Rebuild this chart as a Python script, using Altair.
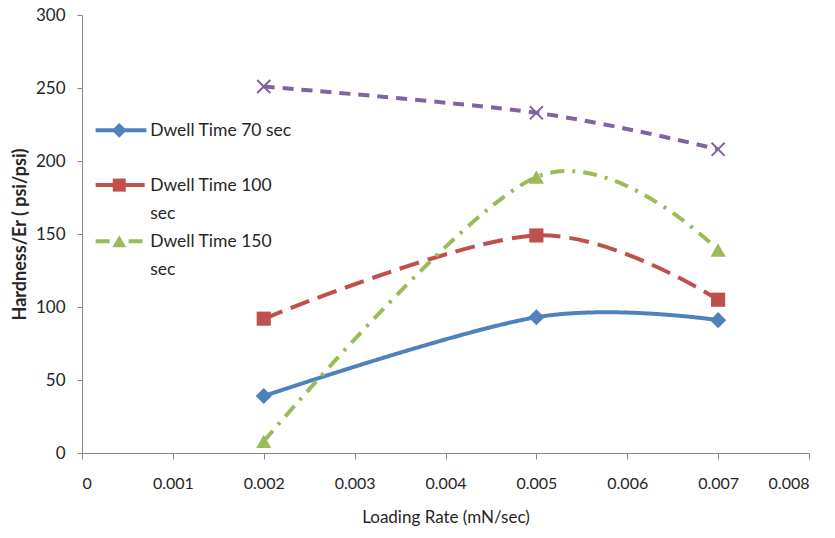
import altair as alt
import pandas as pd

# Loading rate (mN/sec) and hardness/Er for each dwell time
rates = [0.002, 0.005, 0.007]
dwell_70 = [39, 93, 91]
dwell_100 = [92, 149, 105]
dwell_150 = [8, 189, 139]
dwell_other = [251, 233, 208]

series_names = ["Dwell Time 70 sec", "Dwell Time 100 sec", "Dwell Time 150 sec", "other"]
series_values = [dwell_70, dwell_100, dwell_150, dwell_other]
series_colors = ["#4F81BD", "#C0504D", "#9BBB59", "#8064A2"]
series_dashes = [[1, 0], [20, 9], [14, 8, 3, 8], [11, 8]]
series_shapes = ["diamond", "square", "triangle-up", "M-1,-1L1,1M-1,1L1,-1"]
series_sizes = [260, 200, 230, 170]

# Legend entries (drawn inside the plot, in data units)
legend_labels = ["Dwell Time 70 sec", "Dwell Time 100\nsec", "Dwell Time 150\nsec"]
legend_y = [221, 183.5, 145]
legend_x0, legend_xm, legend_x1, legend_xt = 0.00015, 0.00041, 0.00071, 0.00075

FONT = "Lato"

x_scale = alt.Scale(domain=[0, 0.008], nice=False, zero=False)
y_scale = alt.Scale(domain=[0, 300], nice=False)

x_axis = alt.Axis(
    title="Loading Rate (mN/sec)",
    values=[0, 0.001, 0.002, 0.003, 0.004, 0.005, 0.006, 0.007, 0.008],
    format=".3~f",
    grid=False,
    domainColor="#868686",
    tickColor="#868686",
    tickSize=6,
    labelPadding=16,
    labelFont=FONT,
    labelFontSize=16,
    labelColor="#262626",
    titleFont=FONT,
    titleFontSize=17,
    titleFontWeight="normal",
    titleColor="#262626",
    titlePadding=18,
)
y_axis = alt.Axis(
    title="Hardness/Er ( psi/psi)",
    values=[0, 50, 100, 150, 200, 250, 300],
    grid=False,
    domainColor="#868686",
    tickColor="#868686",
    tickSize=5,
    labelPadding=12,
    labelFont=FONT,
    labelFontSize=17,
    labelColor="#262626",
    titleFont=FONT,
    titleFontSize=18,
    titleFontWeight="bold",
    titleColor="#262626",
    titlePadding=6,
)


def xy(xfield, yfield):
    return dict(
        x=alt.X(xfield, scale=x_scale, axis=x_axis),
        y=alt.Y(yfield, scale=y_scale, axis=y_axis),
    )


layers = []
for i, (name, vals) in enumerate(zip(series_names, series_values)):
    df = pd.DataFrame({"rate": rates, "value": vals, "series": name})
    base = alt.Chart(df)
    line = base.mark_line(
        interpolate="cardinal",
        color=series_colors[i],
        strokeWidth=4,
        strokeDash=series_dashes[i],
    ).encode(**xy("rate:Q", "value:Q"))
    if i == 3:
        pts = base.mark_point(
            shape=series_shapes[i], size=series_sizes[i], filled=False,
            color=series_colors[i], strokeWidth=2, opacity=1,
        )
    else:
        pts = base.mark_point(
            shape=series_shapes[i], size=series_sizes[i], filled=True,
            color=series_colors[i], opacity=1,
        )
    layers += [line, pts.encode(**xy("rate:Q", "value:Q"))]

# Legend: line sample, marker and label for each of the first three series
for i, label in enumerate(legend_labels):
    ldf = pd.DataFrame({
        "x0": [legend_x0], "x1": [legend_x1], "xm": [legend_xm],
        "xt": [legend_xt], "y": [legend_y[i]], "label": [label],
    })
    lb = alt.Chart(ldf)
    layers.append(
        lb.mark_rule(color=series_colors[i], strokeWidth=4, strokeDash=series_dashes[i])
        .encode(x2="x1:Q", **xy("x0:Q", "y:Q"))
    )
    layers.append(
        lb.mark_point(shape=series_shapes[i], size=series_sizes[i] * 0.85, filled=True,
                      color=series_colors[i], opacity=1)
        .encode(**xy("xm:Q", "y:Q"))
    )
    layers.append(
        lb.mark_text(align="left", baseline="alphabetic", dy=6, lineBreak="\n", lineHeight=28,
                     font=FONT, fontSize=17.5, color="#262626")
        .encode(text="label:N", **xy("xt:Q", "y:Q"))
    )

chart = alt.layer(*layers).properties(
    width=727,
    height=438,
    autosize=alt.AutoSizeParams(type="none"),
    padding={"left": 82, "top": 15, "right": 26, "bottom": 85},
    background="white",
).configure_view(stroke=None)

chart.save("out.html", embed_options={"renderer": "svg", "actions": False})
